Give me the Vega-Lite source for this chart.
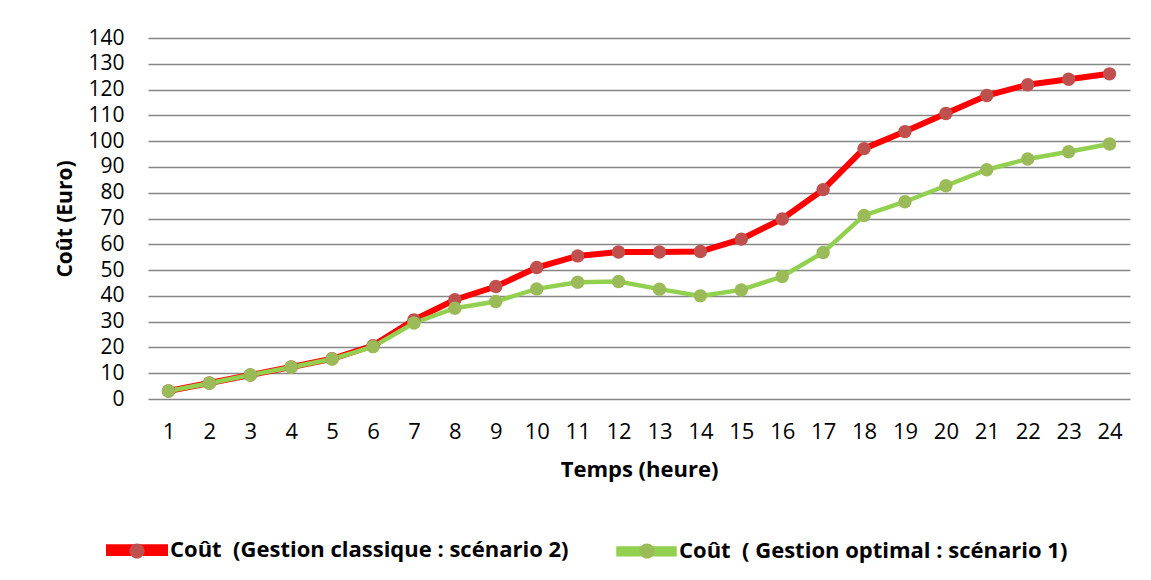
{
  "$schema": "https://vega.github.io/schema/vega-lite/v6.json",
  "width": 982,
  "height": 361,
  "autosize": {"type": "none"},
  "padding": {"left": 148, "top": 38, "right": 21, "bottom": 181},
  "background": "white",
  "config": {
    "font": "Open Sans",
    "view": {"stroke": null},
    "axis": {"labelFont": "Open Sans", "titleFont": "Open Sans", "labelColor": "#000", "titleColor": "#000"}
  },
  "data": {
    "values": [
      {"heure": 1, "serie": "Coût  (Gestion classique : scénario 2)", "cout": 3.1},
      {"heure": 2, "serie": "Coût  (Gestion classique : scénario 2)", "cout": 6.2},
      {"heure": 3, "serie": "Coût  (Gestion classique : scénario 2)", "cout": 9.3},
      {"heure": 4, "serie": "Coût  (Gestion classique : scénario 2)", "cout": 12.4},
      {"heure": 5, "serie": "Coût  (Gestion classique : scénario 2)", "cout": 15.6},
      {"heure": 6, "serie": "Coût  (Gestion classique : scénario 2)", "cout": 20.7},
      {"heure": 7, "serie": "Coût  (Gestion classique : scénario 2)", "cout": 30.7},
      {"heure": 8, "serie": "Coût  (Gestion classique : scénario 2)", "cout": 38.5},
      {"heure": 9, "serie": "Coût  (Gestion classique : scénario 2)", "cout": 43.6},
      {"heure": 10, "serie": "Coût  (Gestion classique : scénario 2)", "cout": 51.0},
      {"heure": 11, "serie": "Coût  (Gestion classique : scénario 2)", "cout": 55.5},
      {"heure": 12, "serie": "Coût  (Gestion classique : scénario 2)", "cout": 57.0},
      {"heure": 13, "serie": "Coût  (Gestion classique : scénario 2)", "cout": 57.0},
      {"heure": 14, "serie": "Coût  (Gestion classique : scénario 2)", "cout": 57.2},
      {"heure": 15, "serie": "Coût  (Gestion classique : scénario 2)", "cout": 62.0},
      {"heure": 16, "serie": "Coût  (Gestion classique : scénario 2)", "cout": 69.8},
      {"heure": 17, "serie": "Coût  (Gestion classique : scénario 2)", "cout": 81.2},
      {"heure": 18, "serie": "Coût  (Gestion classique : scénario 2)", "cout": 97.1},
      {"heure": 19, "serie": "Coût  (Gestion classique : scénario 2)", "cout": 103.7},
      {"heure": 20, "serie": "Coût  (Gestion classique : scénario 2)", "cout": 110.7},
      {"heure": 21, "serie": "Coût  (Gestion classique : scénario 2)", "cout": 117.7},
      {"heure": 22, "serie": "Coût  (Gestion classique : scénario 2)", "cout": 121.9},
      {"heure": 23, "serie": "Coût  (Gestion classique : scénario 2)", "cout": 124.0},
      {"heure": 24, "serie": "Coût  (Gestion classique : scénario 2)", "cout": 126.1},
      {"heure": 1, "serie": "Coût  ( Gestion optimal : scénario 1)", "cout": 3.1},
      {"heure": 2, "serie": "Coût  ( Gestion optimal : scénario 1)", "cout": 6.1},
      {"heure": 3, "serie": "Coût  ( Gestion optimal : scénario 1)", "cout": 9.3},
      {"heure": 4, "serie": "Coût  ( Gestion optimal : scénario 1)", "cout": 12.3},
      {"heure": 5, "serie": "Coût  ( Gestion optimal : scénario 1)", "cout": 15.5},
      {"heure": 6, "serie": "Coût  ( Gestion optimal : scénario 1)", "cout": 20.3},
      {"heure": 7, "serie": "Coût  ( Gestion optimal : scénario 1)", "cout": 29.5},
      {"heure": 8, "serie": "Coût  ( Gestion optimal : scénario 1)", "cout": 35.2},
      {"heure": 9, "serie": "Coût  ( Gestion optimal : scénario 1)", "cout": 37.8},
      {"heure": 10, "serie": "Coût  ( Gestion optimal : scénario 1)", "cout": 42.7},
      {"heure": 11, "serie": "Coût  ( Gestion optimal : scénario 1)", "cout": 45.3},
      {"heure": 12, "serie": "Coût  ( Gestion optimal : scénario 1)", "cout": 45.6},
      {"heure": 13, "serie": "Coût  ( Gestion optimal : scénario 1)", "cout": 42.6},
      {"heure": 14, "serie": "Coût  ( Gestion optimal : scénario 1)", "cout": 40.0},
      {"heure": 15, "serie": "Coût  ( Gestion optimal : scénario 1)", "cout": 42.3},
      {"heure": 16, "serie": "Coût  ( Gestion optimal : scénario 1)", "cout": 47.5},
      {"heure": 17, "serie": "Coût  ( Gestion optimal : scénario 1)", "cout": 56.8},
      {"heure": 18, "serie": "Coût  ( Gestion optimal : scénario 1)", "cout": 71.2},
      {"heure": 19, "serie": "Coût  ( Gestion optimal : scénario 1)", "cout": 76.5},
      {"heure": 20, "serie": "Coût  ( Gestion optimal : scénario 1)", "cout": 82.7},
      {"heure": 21, "serie": "Coût  ( Gestion optimal : scénario 1)", "cout": 88.9},
      {"heure": 22, "serie": "Coût  ( Gestion optimal : scénario 1)", "cout": 93.1},
      {"heure": 23, "serie": "Coût  ( Gestion optimal : scénario 1)", "cout": 95.9},
      {"heure": 24, "serie": "Coût  ( Gestion optimal : scénario 1)", "cout": 98.9}
    ]
  },
  "encoding": {
    "x": {
      "field": "heure", "type": "ordinal",
      "scale": {"type": "point", "padding": 0.5},
      "axis": {
        "title": "Temps (heure)", "labelAngle": 0, "labelFontSize": 22, "labelPadding": 22,
        "ticks": false, "domain": false, "grid": false,
        "titleFontSize": 22, "titleFontWeight": "bold", "titlePadding": 17
      }
    },
    "y": {
      "field": "cout", "type": "quantitative",
      "scale": {"domain": [0, 140], "nice": false},
      "axis": {
        "title": "Coût (Euro)", "values": [0,10,20,30,40,50,60,70,80,90,100,110,120,130,140],
        "labelFontSize": 21, "labelPadding": 24, "ticks": false, "domain": false,
        "grid": true, "gridColor": "#868686", "gridWidth": 1.5,
        "titleFontSize": 21, "titleFontWeight": "bold", "titlePadding": 12
      }
    }
  },
  "layer": [
    {
      "mark": {"type": "line"},
      "encoding": {
        "stroke": {
          "field": "serie", "type": "nominal",
          "scale": {
            "domain": ["Coût  (Gestion classique : scénario 2)", "Coût  ( Gestion optimal : scénario 1)"],
            "range": ["#FF0000", "#92D050"]
          },
          "legend": {
            "title": null, "orient": "none", "direction": "horizontal",
            "legendX": -42, "legendY": 481,
            "symbolType": "M-1,-0.1H1V0.1H-1Z",
            "symbolSize": 3136, "symbolStrokeWidth": 0,
            "labelFontSize": 22, "labelFontWeight": "bold", "labelFont": "Open Sans", "labelColor": "#000",
            "labelOffset": 2, "columnPadding": 40, "labelLimit": 600,
            "labelExpr": "replace(datum.label, 'Coût  (', 'Coût\u00a0 (')",
            "encode": {"symbols": {"update": {"fill": {"scale": "stroke", "field": "value"}, "fillOpacity": {"value": 1}, "strokeWidth": {"value": 0}}}}
          }
        },
        "strokeWidth": {
          "field": "serie", "type": "nominal",
          "scale": {
            "domain": ["Coût  (Gestion classique : scénario 2)", "Coût  ( Gestion optimal : scénario 1)"],
            "range": [6, 4.5]
          },
          "legend": null
        }
      }
    },
    {
      "mark": {"type": "circle", "size": 180, "opacity": 1},
      "encoding": {
        "fill": {
          "field": "serie", "type": "nominal",
          "scale": {
            "domain": ["Coût  (Gestion classique : scénario 2)", "Coût  ( Gestion optimal : scénario 1)", "-"],
            "range": ["#C0504D", "#9BBB59", "#FFFFFF"]
          },
          "legend": {
            "title": null, "orient": "none", "direction": "horizontal",
            "legendX": -39, "legendY": 485,
            "values": ["Coût  (Gestion classique : scénario 2)", "Coût  ( Gestion optimal : scénario 1)"],
            "symbolType": "M0.27,0A0.27,0.27 0 1,1 -0.27,0A0.27,0.27 0 1,1 0.27,0Z",
            "symbolSize": 3136, "symbolStrokeWidth": 0, "symbolOpacity": 1,
            "labelFontSize": 22, "labelOffset": 2, "columnPadding": 452, "labelLimit": 600,
            "labelExpr": "''"
          }
        }
      }
    }
  ]
}
